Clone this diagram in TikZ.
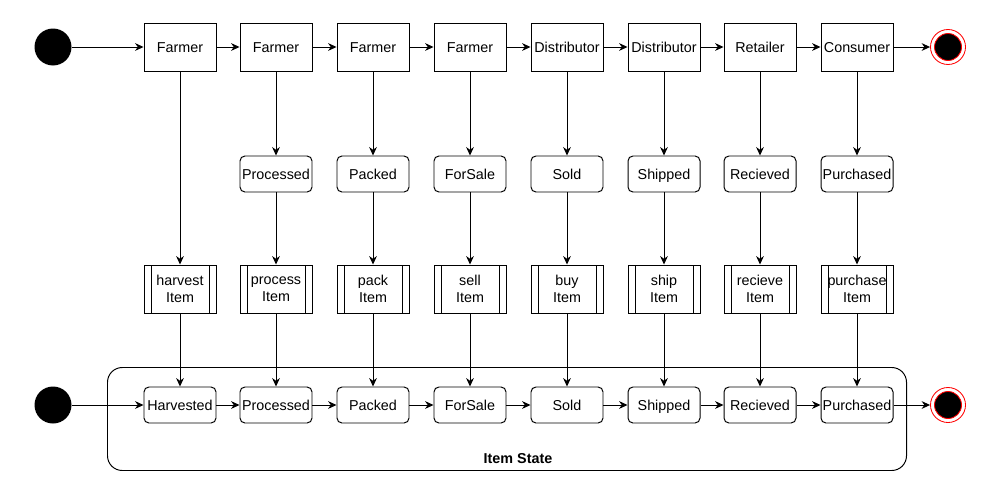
\documentclass[tikz,border=0pt]{standalone}
\usepackage{fontspec}
\setmainfont{Liberation Sans}
\usepackage{xcolor}
\definecolor{LineBlack}{RGB}{0,0,0}
\definecolor{EndRed}{RGB}{255,0,0}
\usepackage{tikz}
\usetikzlibrary{
  positioning,
  arrows.meta,
  backgrounds
}
\newlength\px
\setlength\px{0.025cm}
\tikzset{
  % Actor box (top row)
  actor/.style={
    rectangle,
    draw=LineBlack,
    fill=white,
    line width=0.7pt,
    minimum width=72\px,
    minimum height=48\px,
    inner sep=1pt,
    text height=9.2pt,
    text depth=1pt,
    font=\fontsize{10.2}{12}\selectfont
  },
  % State box (rounded)
  state/.style={
    rectangle,
    rounded corners=3.5pt,
    draw=LineBlack,
    fill=white,
    line width=0.7pt,
    minimum width=72\px,
    minimum height=36\px,
    inner sep=1pt,
    text height=9.2pt,
    text depth=1pt,
    font=\fontsize{10.2}{12}\selectfont
  },
  % Process box with double sides
  proc/.style={
    rectangle,
    draw=LineBlack,
    fill=white,
    line width=0.7pt,
    minimum width=72\px,
    minimum height=48\px,
    inner sep=1pt,
    align=center,
    font=\fontsize{10.2}{12}\selectfont,
    path picture={
      \draw[line width=0.7pt]
        ([xshift=7\px]path picture bounding box.north west) --
        ([xshift=7\px]path picture bounding box.south west)
        ([xshift=-7\px]path picture bounding box.north east) --
        ([xshift=-7\px]path picture bounding box.south east);
    }
  },
  % Start dot
  startdot/.style={
    circle,
    fill=black,
    minimum size=37\px,
    inner sep=0pt
  },
  % End dot
  enddot/.style={
    circle,
    draw=EndRed,
    fill=white,
    line width=0.6pt,
    minimum size=35\px,
    inner sep=0pt,
    path picture={
      \fill[black, draw=EndRed, line width=0.6pt]
        (path picture bounding box.center) circle[radius=13.5\px];
    }
  },
  % Directed edge
  flow/.style={
    draw=LineBlack,
    line width=0.7pt,
    -{Stealth[length=6pt,width=5.5pt]}
  },
  % Container
  container/.style={
    rectangle,
    rounded corners=10.5pt,
    draw=LineBlack,
    line width=0.7pt,
    minimum width=799\px,
    minimum height=103\px
  },
  % Container label
  clabel/.style={
    font=\fontsize{10.2}{12}\selectfont\bfseries
  }
}

\begin{document}
\begin{tikzpicture}[x=1\px, y=-1\px]
  \useasboundingbox (0,0) rectangle (993,500);

  % Container for item states
  \node[container] (box) at (507,419) {};
  \node[clabel] (boxlabel) at (518,459) {Item State};

  % Top row: actors
  \node[startdot] (start1) at (53,47) {};
  \node[actor] (a1) at (180,47) {Farmer};
  \node[actor] (a2) at (276,47) {Farmer};
  \node[actor] (a3) at (373,47) {Farmer};
  \node[actor] (a4) at (470,47) {Farmer};
  \node[actor] (a5) at (567,47) {Distributor};
  \node[actor] (a6) at (664,47) {Distributor};
  \node[actor] (a7) at (760,47) {Retailer};
  \node[actor] (a8) at (857,47) {Consumer};
  \node[enddot] (end1) at (948,47) {};

  % Middle row: states
  \node[state] (s2) at (276,174) {Processed};
  \node[state] (s3) at (373,174) {Packed};
  \node[state] (s4) at (470,174) {ForSale};
  \node[state] (s5) at (567,174) {Sold};
  \node[state] (s6) at (664,174) {Shipped};
  \node[state] (s7) at (760,174) {Recieved};
  \node[state] (s8) at (857,174) {Purchased};

  % Process row
  \node[proc] (p1) at (180,289) {harvest\\Item};
  \node[proc] (p2) at (276,289) {process\\Item};
  \node[proc] (p3) at (373,289) {pack\\Item};
  \node[proc] (p4) at (470,289) {sell\\Item};
  \node[proc] (p5) at (567,289) {buy\\Item};
  \node[proc] (p6) at (664,289) {ship\\Item};
  \node[proc] (p7) at (760,289) {recieve\\Item};
  \node[proc] (p8) at (857,289) {purchase\\Item};

  % Bottom row: item states
  \node[startdot] (start2) at (53,405) {};
  \node[state] (b1) at (180,405) {Harvested};
  \node[state] (b2) at (276,405) {Processed};
  \node[state] (b3) at (373,405) {Packed};
  \node[state] (b4) at (470,405) {ForSale};
  \node[state] (b5) at (567,405) {Sold};
  \node[state] (b6) at (664,405) {Shipped};
  \node[state] (b7) at (760,405) {Recieved};
  \node[state] (b8) at (857,405) {Purchased};
  \node[enddot] (end2) at (948,405) {};

  % Top row edges
  \draw[flow] (start1) -- (a1);
  \draw[flow] (a1) -- (a2);
  \draw[flow] (a2) -- (a3);
  \draw[flow] (a3) -- (a4);
  \draw[flow] (a4) -- (a5);
  \draw[flow] (a5) -- (a6);
  \draw[flow] (a6) -- (a7);
  \draw[flow] (a7) -- (a8);
  \draw[flow] (a8) -- (end1);

  % Actor to state to process
  \draw[flow] (a1) -- (p1);
  \draw[flow] (a2) -- (s2);  \draw[flow] (s2) -- (p2);
  \draw[flow] (a3) -- (s3);  \draw[flow] (s3) -- (p3);
  \draw[flow] (a4) -- (s4);  \draw[flow] (s4) -- (p4);
  \draw[flow] (a5) -- (s5);  \draw[flow] (s5) -- (p5);
  \draw[flow] (a6) -- (s6);  \draw[flow] (s6) -- (p6);
  \draw[flow] (a7) -- (s7);  \draw[flow] (s7) -- (p7);
  \draw[flow] (a8) -- (s8);  \draw[flow] (s8) -- (p8);

  % Process to item state
  \draw[flow] (p1) -- (b1);
  \draw[flow] (p2) -- (b2);
  \draw[flow] (p3) -- (b3);
  \draw[flow] (p4) -- (b4);
  \draw[flow] (p5) -- (b5);
  \draw[flow] (p6) -- (b6);
  \draw[flow] (p7) -- (b7);
  \draw[flow] (p8) -- (b8);

  % Bottom row edges
  \draw[flow] (start2) -- (b1);
  \draw[flow] (b1) -- (b2);
  \draw[flow] (b2) -- (b3);
  \draw[flow] (b3) -- (b4);
  \draw[flow] (b4) -- (b5);
  \draw[flow] (b5) -- (b6);
  \draw[flow] (b6) -- (b7);
  \draw[flow] (b7) -- (b8);
  \draw[flow] (b8) -- (end2);
\end{tikzpicture}
\end{document}
